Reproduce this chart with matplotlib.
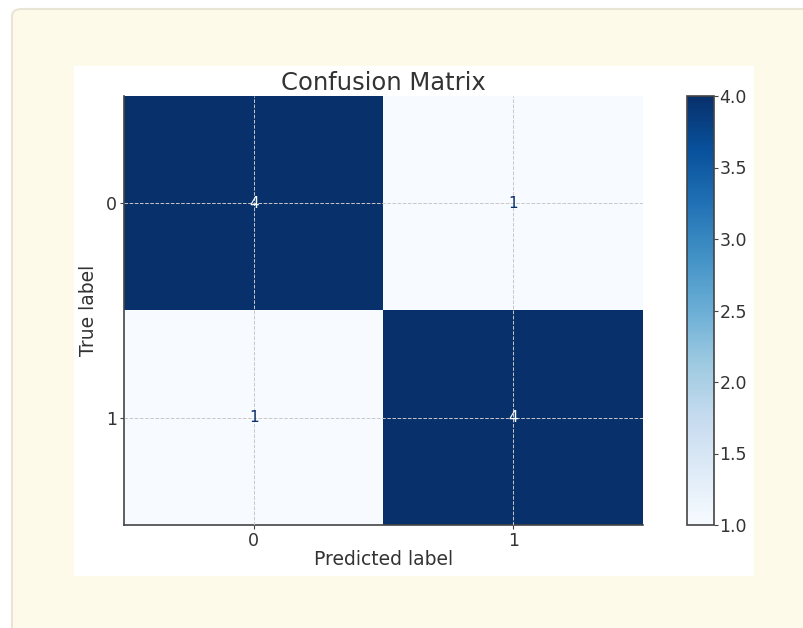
import numpy as np
import matplotlib
matplotlib.use("Agg")
from matplotlib import pyplot as plt
from matplotlib.patches import FancyBboxPatch, Rectangle

# confusion matrix values
class_labels = ["0", "1"]
cm = np.array([[4, 1],
               [1, 4]])
cbar_ticks = [1.0, 1.5, 2.0, 2.5, 3.0, 3.5, 4.0]

W, H = 804, 628
fig = plt.figure(figsize=(W / 100, H / 100), dpi=100)
fig.patch.set_facecolor("white")

# cream card behind the chart (screenshot frame)
card = FancyBboxPatch((12 / W, -20 / H), 820 / W, (H - 9 + 20) / H,
                      boxstyle="round,pad=0,rounding_size=0.012",
                      transform=fig.transFigure, facecolor="#fefae9",
                      edgecolor="#e8e4d6", linewidth=1.5, zorder=-2)
fig.patches.append(card)
# white chart image
fig.patches.append(Rectangle((74 / W, 52 / H), 680 / W, 510 / H,
                             transform=fig.transFigure, facecolor="white",
                             edgecolor="none", zorder=-1))

text_col = "#333333"
ax = fig.add_axes([124 / W, 103 / H, 519 / W, 429 / H])
cax = fig.add_axes([687 / W, 103 / H, 27 / W, 429 / H])

cmap = plt.get_cmap("Blues")
im = ax.imshow(cm, cmap=cmap, aspect="auto", interpolation="nearest", zorder=0)

# cell counts
thresh = (cm.max() + cm.min()) / 2
for i in range(cm.shape[0]):
    for j in range(cm.shape[1]):
        c = cmap(0.0) if cm[i, j] > thresh else cmap(1.0)
        ax.text(j, i, str(cm[i, j]), ha="center", va="center",
                color=c, fontsize=11, zorder=3)

ax.set_xticks(range(len(class_labels)))
ax.set_xticklabels(class_labels)
ax.set_yticks(range(len(class_labels)))
ax.set_yticklabels(class_labels)
ax.grid(True, linestyle="--", color="#c8c8c8", linewidth=0.7, zorder=2)
ax.set_axisbelow(False)
ax.spines["top"].set_visible(False)
ax.spines["right"].set_visible(False)
for s in ["left", "bottom"]:
    ax.spines[s].set_color("#444444")
    ax.spines[s].set_linewidth(1.2)
ax.tick_params(colors="#444444", labelcolor=text_col, labelsize=12.5,
               length=3, pad=2)
ax.set_title("Confusion Matrix", fontsize=17.5, color=text_col, pad=4)
ax.set_xlabel("Predicted label", fontsize=13.5, color=text_col, labelpad=0)
ax.set_ylabel("True label", fontsize=13.5, color=text_col, labelpad=6)

cb = fig.colorbar(im, cax=cax, ticks=cbar_ticks)
cb.ax.set_yticklabels([f"{t:.1f}" for t in cbar_ticks])
cb.outline.set_edgecolor("#444444")
cb.outline.set_linewidth(1.2)
cb.ax.tick_params(colors="#444444", labelcolor=text_col, labelsize=12.5,
                  length=3, pad=1)

fig.savefig("out.png", dpi=100)
